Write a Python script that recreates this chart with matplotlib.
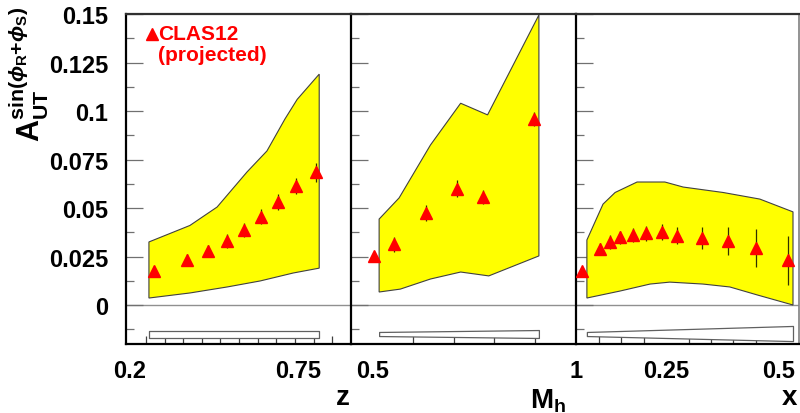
import numpy as np
import matplotlib
matplotlib.use("Agg")
import matplotlib.pyplot as plt

plt.rcParams["font.family"] = ["Liberation Sans", "DejaVu Sans"]
plt.rcParams["font.weight"] = "bold"
plt.rcParams["mathtext.fontset"] = "custom"
plt.rcParams["mathtext.rm"] = "Liberation Sans"
plt.rcParams["mathtext.bf"] = "Liberation Sans:bold"
plt.rcParams["mathtext.it"] = "Liberation Sans:italic"

# --- z panel ---
z_pts = [0.279, 0.387, 0.455, 0.518, 0.573, 0.629, 0.684, 0.743, 0.809]
z_vals = [0.0175, 0.0232, 0.0278, 0.033, 0.0387, 0.0454, 0.053, 0.0613, 0.0685]
z_errs = [0.0026, 0.003, 0.003, 0.0034, 0.0036, 0.0039, 0.004, 0.004, 0.0049]
z_band_top_x = [0.262, 0.396, 0.485, 0.583, 0.648, 0.707, 0.747, 0.819]
z_band_top = [0.0325, 0.041, 0.0505, 0.0686, 0.0794, 0.0959, 0.106, 0.119]
z_band_bot_x = [0.262, 0.396, 0.518, 0.626, 0.734, 0.819]
z_band_bot = [0.0036, 0.0062, 0.0093, 0.0124, 0.0165, 0.019]
z_sys_x = [0.262, 0.819]
z_sys_lo = [-0.017, -0.017]
z_sys_hi = [-0.0134, -0.0134]

# --- Mh panel ---
mh_pts = [0.505, 0.554, 0.631, 0.707, 0.773, 0.897]
mh_vals = [0.0253, 0.0314, 0.0474, 0.060, 0.0557, 0.0959]
mh_errs = [0.0, 0.0039, 0.0039, 0.0043, 0.0036, 0.0036]
mh_band_top_x = [0.517, 0.566, 0.643, 0.717, 0.783, 0.909]
mh_band_top = [0.0443, 0.0552, 0.0825, 0.104, 0.098, 0.1495]
mh_band_bot_x = [0.517, 0.569, 0.643, 0.717, 0.786, 0.909]
mh_band_bot = [0.0067, 0.0082, 0.0134, 0.017, 0.015, 0.0253]
mh_sys_x = [0.517, 0.909]
mh_sys_lo = [-0.016, -0.017]
mh_sys_hi = [-0.0139, -0.0129]

# --- x panel ---
x_pts = [0.061, 0.102, 0.124, 0.148, 0.175, 0.206, 0.240, 0.275, 0.331, 0.389, 0.450, 0.522]
x_vals = [0.0175, 0.0289, 0.0325, 0.035, 0.036, 0.037, 0.0376, 0.0356, 0.0345, 0.033, 0.0294, 0.023]
x_errs = [0.0, 0.003, 0.0034, 0.0034, 0.0037, 0.0038, 0.0043, 0.0044, 0.0055, 0.0072, 0.0099, 0.0126]
x_band_top_x = [0.073, 0.109, 0.136, 0.185, 0.247, 0.288, 0.377, 0.459, 0.533]
x_band_top = [0.0335, 0.052, 0.058, 0.0634, 0.0634, 0.0608, 0.058, 0.0546, 0.048]
x_band_bot_x = [0.073, 0.147, 0.214, 0.258, 0.332, 0.392, 0.453, 0.533]
x_band_bot = [0.0036, 0.0072, 0.0108, 0.0118, 0.0108, 0.0093, 0.0052, 0.0]
x_sys_x = [0.073, 0.533]
x_sys_lo = [-0.016, -0.0186]
x_sys_hi = [-0.0139, -0.0108]

panels = [
    dict(pts=z_pts, vals=z_vals, errs=z_errs,
         tx=z_band_top_x, ty=z_band_top, bx=z_band_bot_x, by=z_band_bot,
         sx=z_sys_x, slo=z_sys_lo, shi=z_sys_hi,
         xlim=(0.187, 0.923), ticks=[0.2, 0.75], labels=["0.2", "0.75"],
         minor=np.arange(0.2524, 0.90, 0.0609)),
    dict(pts=mh_pts, vals=mh_vals, errs=mh_errs,
         tx=mh_band_top_x, ty=mh_band_top, bx=mh_band_bot_x, by=mh_band_bot,
         sx=mh_sys_x, slo=mh_sys_lo, shi=mh_sys_hi,
         xlim=(0.448, 1.0), ticks=[0.5, 1.0], labels=["0.5", "1"],
         minor=np.arange(0.5, 0.95, 0.1)),
    dict(pts=x_pts, vals=x_vals, errs=x_errs,
         tx=x_band_top_x, ty=x_band_top, bx=x_band_bot_x, by=x_band_bot,
         sx=x_sys_x, slo=x_sys_lo, shi=x_sys_hi,
         xlim=(0.0487, 0.5464), ticks=[0.25, 0.5], labels=["0.25", "0.5"],
         minor=np.arange(0.1, 0.52, 0.05)),
]

fig = plt.figure(figsize=(8.0, 4.14), dpi=100)
W, H = 800.0, 414.0
edges = [126, 351, 576, 799]
top_px, bot_px = 15, 345

axes = []
for i, p in enumerate(panels):
    ax = fig.add_axes([edges[i] / W, (H - bot_px) / H,
                       (edges[i + 1] - edges[i]) / W, (bot_px - top_px) / H])
    axes.append(ax)

    # theory band
    poly_x = list(p["tx"]) + list(p["bx"])[::-1]
    poly_y = list(p["ty"]) + list(p["by"])[::-1]
    ax.fill(poly_x, poly_y, facecolor="#ffff00", edgecolor="#404040", lw=0.8, zorder=2)

    # zero line
    ax.axhline(0, color="#909090", lw=1.0, zorder=1)

    # systematic box
    ax.fill_between(p["sx"], p["slo"], p["shi"], facecolor="white",
                    edgecolor="#606060", lw=0.9, zorder=2)

    # projected points
    ax.errorbar(p["pts"], p["vals"], yerr=p["errs"], fmt="none",
                ecolor="#303000", elinewidth=0.9, zorder=3)
    ax.plot(p["pts"], p["vals"], ls="none", marker="^", ms=8.5,
            color="#ff0000", mec="#ff0000", zorder=4)

    ax.set_xlim(*p["xlim"])
    ax.set_ylim(-0.0201, 0.15)

    ax.set_xticks(p["ticks"])
    ax.set_xticklabels(p["labels"], fontsize=17, fontweight="bold")
    ax.set_xticks(p["minor"], minor=True)
    ax.tick_params(axis="x", which="major", length=0, pad=11)
    ax.tick_params(axis="x", which="minor", direction="in", length=6,
                   width=0.9, color="#404040")

    ax.set_yticks(np.arange(0, 0.151, 0.025))
    ax.set_yticks(np.arange(-0.0125, 0.151, 0.0125), minor=True)
    ax.tick_params(axis="y", which="major", direction="in", length=12,
                   width=0.9, color="#707070", pad=13)
    ax.tick_params(axis="y", which="minor", direction="in", length=6,
                   width=0.9, color="#707070")
    if i == 0:
        ax.set_yticklabels(["0", "0.025", "0.05", "0.075", "0.1", "0.125", "0.15"],
                           fontsize=17, fontweight="bold")
    else:
        ax.set_yticklabels([])

    for side in ["left", "bottom", "top", "right"]:
        ax.spines[side].set_linewidth(1.6)
        ax.spines[side].set_color("black")
    ax.spines["top"].set_color("#303030")
    if i < 2:
        ax.spines["right"].set_visible(False)
    else:
        ax.spines["right"].set_color("#808080")
        ax.spines["right"].set_linewidth(1.2)

# legend
ax0 = axes[0]
ax0.plot([0.272], [0.1397], ls="none", marker="^", ms=8, color="#ff0000",
         zorder=5)
ax0.text(0.293, 0.1397, "CLAS12", color="#ff0000", fontsize=15,
         fontweight="bold", va="center", ha="left")
ax0.text(0.293, 0.1292, "(projected)", color="#ff0000", fontsize=15,
         fontweight="bold", va="center", ha="left")

# axis titles
fig.text(343 / W, 1 - 405 / H, "z", fontsize=20, fontweight="bold",
         ha="center", va="baseline")
fig.text(548 / W, 1 - 409 / H, r"$\mathbf{M_h}$", fontsize=20,
         ha="center", va="baseline")
fig.text(790 / W, 1 - 405 / H, "x", fontsize=20, fontweight="bold",
         ha="center", va="baseline")

fig.text(29 / W, 1 - 74 / H,
         r"$\mathbf{A}_{\mathbf{UT}}^{\mathrm{sin(}\phi_{\mathrm{R}}\mathrm{+}\phi_{\mathrm{S}}\mathrm{)}}$",
         fontsize=22, rotation=90, ha="center", va="center")

fig.savefig("out.png", dpi=100)
